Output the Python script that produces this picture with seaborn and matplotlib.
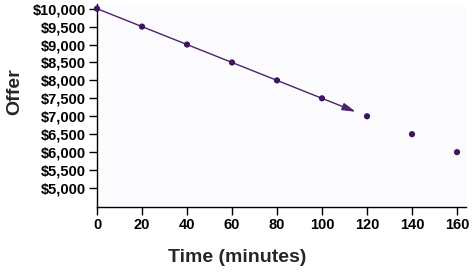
import seaborn as sns
import numpy as np
import pandas as pd
import matplotlib.pyplot as plt
from matplotlib.ticker import FuncFormatter

# data
minutes = [0, 20, 40, 60, 80, 100, 120, 140, 160]
offers = [10000, 9500, 9000, 8500, 8000, 7500, 7000, 6500, 6000]
y_ticks = [5000, 5500, 6000, 6500, 7000, 7500, 8000, 8500, 9000, 9500, 10000]
x_ticks = [0, 20, 40, 60, 80, 100, 120, 140, 160]
arrow_end = 115  # trend arrow stops short of the 120 point

sns.set_style('white')
plt.rcParams['font.family'] = ['Liberation Sans', 'DejaVu Sans']
plt.rcParams['font.weight'] = 'bold'

df = pd.DataFrame({'minutes': minutes, 'offer': offers})

fig = plt.figure(figsize=(4.74, 2.72), dpi=100)
ax = fig.add_axes([97/474, 1 - 207/272, 369/474, 203/272])
ax.set_facecolor('#fcfbfd')

slope = (offers[1] - offers[0]) / (minutes[1] - minutes[0])
ax.annotate('', xy=(arrow_end, offers[0] + slope * arrow_end),
            xytext=(minutes[0], offers[0]),
            arrowprops=dict(arrowstyle='-|>,head_length=0.9,head_width=0.25',
                            color='#4a2370', lw=1.0,
                            mutation_scale=9, shrinkA=0, shrinkB=0))

sns.scatterplot(data=df, x='minutes', y='offer', ax=ax, color='#3f1462',
                s=20, edgecolor='none', zorder=5, clip_on=False)

ax.set_xlim(0, 164)
ax.set_ylim(4470, 10130)
ax.set_xticks(x_ticks)
ax.set_yticks(y_ticks)
ax.yaxis.set_major_formatter(FuncFormatter(lambda v, p: '${:,.0f}'.format(v)))
ax.tick_params(axis='both', which='major', direction='out', length=6, width=1,
               labelsize=10.5, colors='black', left=True, bottom=True, pad=2)
for lab in ax.get_xticklabels() + ax.get_yticklabels():
    lab.set_fontweight('bold')

sns.despine(ax=ax)
for sp in ['left', 'bottom']:
    ax.spines[sp].set_color('black')
    ax.spines[sp].set_linewidth(1)

ax.set_xlabel('Time (minutes)', fontsize=14, fontweight='bold')
ax.set_ylabel('Offer', fontsize=14, fontweight='bold')
ax.xaxis.set_label_coords(0.379, -0.251)
ax.yaxis.set_label_coords(-0.222, 0.567)
ax.xaxis.label.set_va('center')
ax.yaxis.label.set_va('center')

fig.savefig('out.png', dpi=100, facecolor='white')
